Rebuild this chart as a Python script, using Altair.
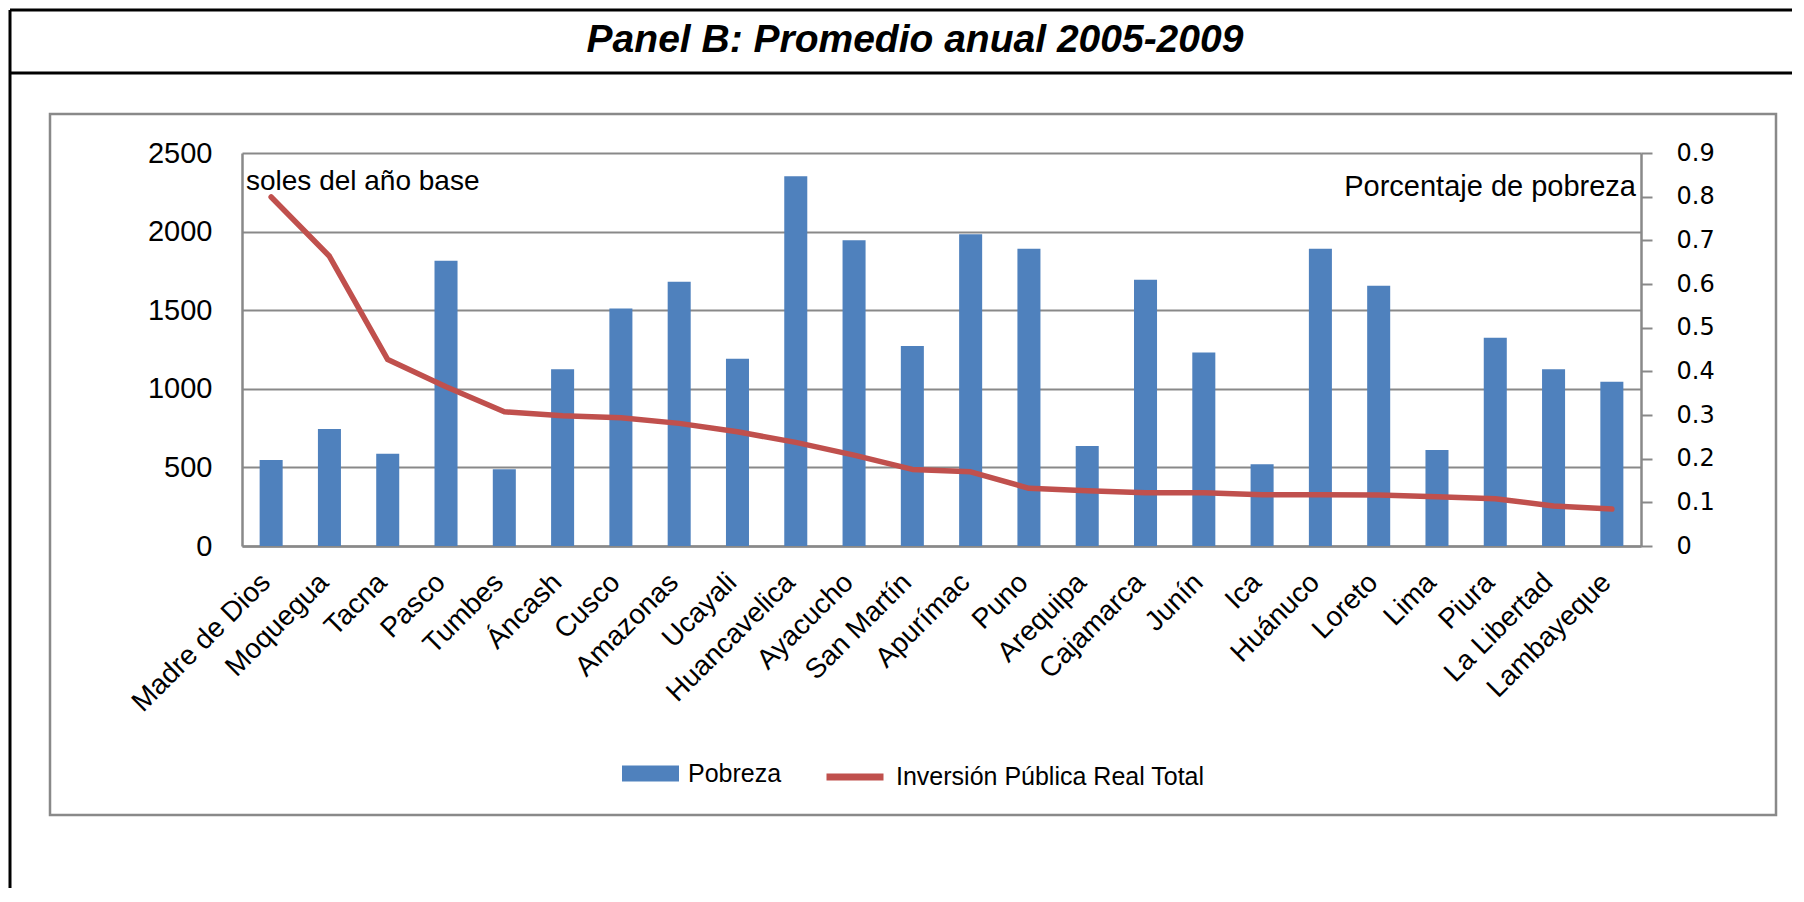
import altair as alt
import pandas as pd

regions = ["Madre de Dios", "Moquegua", "Tacna", "Pasco", "Tumbes", "Áncash", "Cusco",
           "Amazonas", "Ucayali", "Huancavelica", "Ayacucho", "San Martín", "Apurímac",
           "Puno", "Arequipa", "Cajamarca", "Junín", "Ica", "Huánuco", "Loreto", "Lima",
           "Piura", "La Libertad", "Lambayeque"]
pobreza = [0.197, 0.268, 0.211, 0.653, 0.176, 0.405, 0.544, 0.605, 0.429, 0.847, 0.700,
           0.458, 0.714, 0.681, 0.229, 0.610, 0.443, 0.187, 0.681, 0.596, 0.220, 0.477,
           0.405, 0.376]
inversion = [2220, 1843, 1186, 1013, 854, 828, 816, 780, 727, 659, 578, 487, 472, 367,
             352, 339, 339, 326, 326, 324, 314, 301, 254, 235]
left_ticks = [0, 500, 1000, 1500, 2000, 2500]
right_ticks = [0, 0.1, 0.2, 0.3, 0.4, 0.5, 0.6, 0.7, 0.8, 0.9]
series_bar = "Pobreza"
series_line = "Inversión Pública Real Total"
title_text = "Panel B: Promedio anual 2005-2009"
left_note = "soles del año base"
right_note = "Porcentaje de pobreza"

FONT = "Liberation Sans"
GRAY = "#898989"
W, H = 1399, 393

df = pd.DataFrame({"Region": regions, "Pobreza": pobreza, "Inversion": inversion,
                   "sb": series_bar, "sl": series_line})
one = pd.DataFrame({"k": [0]})

x_enc = alt.X("Region:N", sort=regions,
              scale=alt.Scale(paddingInner=0.605, paddingOuter=0.3025),
              axis=alt.Axis(title=None, labelAngle=315, labelAlign="right",
                            labelBaseline="middle", labelPadding=32, labelOffset=-5,
                            ticks=False, labelFontSize=28, labelFont=FONT,
                            labelColor="black", domainColor=GRAY, domainWidth=2.5,
                            grid=False, labelOverlap=False, labelLimit=400))

# frames
gray_box = alt.Chart(one).mark_rect(fill="white", fillOpacity=0, stroke=GRAY, strokeWidth=2.5).encode(
    x=alt.value(-192), x2=alt.value(1534), y=alt.value(-39), y2=alt.value(662))
outer_left = alt.Chart(one).mark_rule(color="black", strokeWidth=3).encode(
    x=alt.value(-232), y=alt.value(-143), y2=alt.value(735))
outer_top = alt.Chart(one).mark_rule(color="black", strokeWidth=3).encode(
    x=alt.value(-232), x2=alt.value(1550), y=alt.value(-143))
title_line = alt.Chart(one).mark_rule(color="black", strokeWidth=3).encode(
    x=alt.value(-232), x2=alt.value(1550), y=alt.value(-80))

bars = alt.Chart(df).mark_bar().encode(
    x=x_enc,
    y=alt.Y("Pobreza:Q", scale=alt.Scale(domain=[0, 0.9], nice=False, zero=True),
            axis=alt.Axis(orient="right", title=None, values=right_ticks, format="~g",
                          grid=False, tickSize=11, tickColor=GRAY, tickWidth=2,
                          domainColor=GRAY, domainWidth=2.5, labelPadding=24,
                          labelFont="DejaVu Sans", labelFontSize=24, labelColor="black")),
    fill=alt.Fill("sb:N", scale=alt.Scale(domain=[series_bar], range=["#4F81BD"]),
                  legend=alt.Legend(orient="none", legendX=380, legendY=592, title=None,
                                    symbolType="M-1,-0.28L1,-0.28L1,0.28L-1,0.28Z",
                                    symbolSize=3249, symbolStrokeWidth=0, padding=0,
                                    labelFont=FONT, labelFontSize=25, labelColor="black",
                                    labelOffset=9, labelLimit=600)),
)

line = alt.Chart(df).mark_line(strokeWidth=5.5, strokeCap="round", strokeJoin="round").encode(
    x=x_enc,
    y=alt.Y("Inversion:Q", scale=alt.Scale(domain=[0, 2500], nice=False, zero=True),
            axis=alt.Axis(orient="left", title=None, values=left_ticks, format="d",
                          grid=True, gridColor=GRAY, gridWidth=2, ticks=False,
                          domainColor=GRAY, domainWidth=2.5, labelPadding=30,
                          labelFont=FONT, labelFontSize=29, labelColor="black")),
    stroke=alt.Stroke("sl:N", scale=alt.Scale(domain=[series_line], range=["#C0504D"]),
                      legend=alt.Legend(orient="none", legendX=581, legendY=592, title=None,
                                        symbolType="stroke", symbolSize=3249,
                                        symbolStrokeWidth=7, padding=0,
                                        labelFont=FONT, labelFontSize=25,
                                        labelColor="black", labelOffset=9, labelLimit=600)),
)

title = alt.Chart(pd.DataFrame({"t": [title_text]})).mark_text(
    font=FONT, fontSize=39, fontWeight="bold", fontStyle="italic", align="center",
    baseline="middle", color="black").encode(text="t:N", x=alt.value(673), y=alt.value(-113))
note_l = alt.Chart(pd.DataFrame({"t": [left_note]})).mark_text(
    font=FONT, fontSize=28, align="left", baseline="middle", color="black").encode(
    text="t:N", x=alt.value(4), y=alt.value(29))
note_r = alt.Chart(pd.DataFrame({"t": [right_note]})).mark_text(
    font=FONT, fontSize=29, align="right", baseline="middle", color="black").encode(
    text="t:N", x=alt.value(1394), y=alt.value(34))

chart = alt.layer(gray_box, outer_left, outer_top, title_line, bars, line, title, note_l, note_r
                  ).resolve_scale(y="independent", fill="independent", stroke="independent"
                  ).properties(width=W, height=H, padding=0, background="white"
                  ).configure_view(stroke=None)

chart.save("out.html", embed_options={"renderer": "svg", "actions": False})
